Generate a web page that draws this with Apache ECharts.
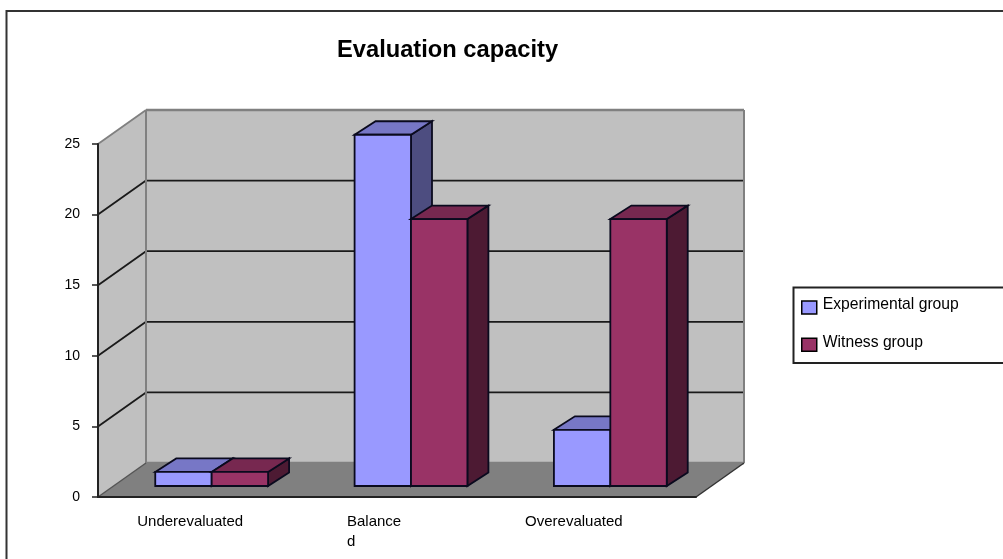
<!DOCTYPE html>
<html>
<head>
<meta charset="utf-8">
<style>html,body{margin:0;padding:0;background:#fff}#chart{width:1003px;height:559px}</style>
<script src="https://cdn.jsdelivr.net/npm/echarts@6/dist/echarts.min.js"></script>
</head>
<body>
<div id="chart"></div>
<script>
const categories = ['Underevaluated', 'Balanced', 'Overevaluated'];
const experimentalGroup = [1, 25, 4];
const witnessGroup = [1, 19, 19];
const valueTicks = [0, 5, 10, 15, 20, 25];

// Oblique projection: how far the back wall and the bars sit behind the axis plane.
const WALL_DEPTH = [48, -34];
const BAR_SHIFT = [14, -11];
const BAR_DEPTH = [21, -13.5];
const BAR_RATIO = 0.283;
const BAR_SCALE = 0.995;

const FONT = '"Liberation Sans", Arial, sans-serif';
const SHADES = {
  exp: { front: '#9999FF', top: '#7777C6', side: '#4D4D80' },
  wit: { front: '#993366', top: '#772850', side: '#4D1A33' }
};

function poly(points, fill, stroke, lineWidth) {
  return {
    type: 'polygon',
    shape: { points },
    style: { fill, stroke: stroke || null, lineWidth: lineWidth || 0, lineJoin: 'miter' }
  };
}
function seg(a, b, stroke, lineWidth) {
  return {
    type: 'line',
    shape: { x1: a[0], y1: a[1], x2: b[0], y2: b[1] },
    style: { stroke, lineWidth }
  };
}

// Left wall, back wall, floor and the gridlines that wrap around them.
function renderWalls(params, api) {
  const cs = params.coordSys;
  const [dx, dy] = WALL_DEPTH;
  const l = cs.x, r = cs.x + cs.width;
  const y0 = api.coord([0, 0])[1];
  const yT = api.coord([0, valueTicks[valueTicks.length - 1]])[1];
  const children = [
    poly([[l + dx, yT + dy], [r + dx, yT + dy], [r + dx, y0 + dy], [l + dx, y0 + dy]], '#C0C0C0'),
    poly([[l, yT], [l + dx, yT + dy], [l + dx, y0 + dy], [l, y0]], '#C0C0C0'),
    poly([[l, y0], [r, y0], [r + dx, y0 + dy], [l + dx, y0 + dy]], '#808080')
  ];
  valueTicks.forEach(function (t) {
    const y = api.coord([0, t])[1];
    const edge = t === 0 || t === valueTicks[valueTicks.length - 1];
    const col = edge ? '#808080' : '#1A1A1A';
    children.push(seg([l + dx, y + dy], [r + dx, y + dy], col, edge ? 2.5 : 1.8));
    if (t !== 0) children.push(seg([l, y], [l + dx, y + dy], edge ? '#808080' : '#1A1A1A', 1.8));
  });
  children.push(seg([l + dx, yT + dy], [l + dx, y0 + dy], '#808080', 2));
  children.push(seg([r + dx, yT + dy], [r + dx, y0 + dy], '#808080', 2));
  children.push(seg([l, y0], [l + dx, y0 + dy], '#555555', 1.5));
  children.push(seg([r, y0], [r + dx, y0 + dy], '#333333', 1.5));
  return { type: 'group', children };
}

// One 3D column: front face plus top and side faces.
function barRenderer(slot, shades) {
  return function (params, api) {
    const base = api.coord([api.value(0), 0]);
    const head = api.coord([api.value(0), api.value(1)]);
    const w = api.size([1, 0])[0] * BAR_RATIO;
    const x0 = base[0] + BAR_SHIFT[0] + (slot - 1) * w;
    const x1 = x0 + w;
    const yB = base[1] + BAR_SHIFT[1];
    const yT = yB - (base[1] - head[1]) * BAR_SCALE;
    const [dx, dy] = BAR_DEPTH;
    const ink = '#0A0A1E';
    return {
      type: 'group',
      children: [
        poly([[x1, yT], [x1 + dx, yT + dy], [x1 + dx, yB + dy], [x1, yB]], shades.side, ink, 1.8),
        poly([[x0, yT], [x0 + dx, yT + dy], [x1 + dx, yT + dy], [x1, yT]], shades.top, ink, 1.8),
        poly([[x0, yT], [x1, yT], [x1, yB], [x0, yB]], shades.front, ink, 1.8)
      ]
    };
  };
}

const chart = echarts.init(document.getElementById('chart'), null, { renderer: 'canvas' });
chart.setOption({
  animation: false,
  backgroundColor: '#FFFFFF',
  title: {
    text: 'Evaluation capacity',
    left: 332,
    top: 33,
    textStyle: { fontFamily: FONT, fontWeight: 'bold', fontSize: 23.7, color: '#000' }
  },
  graphic: [
    { type: 'rect', z: -10, shape: { x: 6.5, y: 11, width: 1100, height: 700 },
      style: { fill: 'none', stroke: '#333', lineWidth: 2 } },
    { type: 'rect', z: 5, shape: { x: 793.5, y: 287.5, width: 300, height: 75.5 },
      style: { fill: '#fff', stroke: '#222', lineWidth: 2 } }
  ],
  legend: {
    left: 801,
    top: 297,
    orient: 'vertical',
    padding: 0,
    itemWidth: 15,
    itemHeight: 13,
    itemGap: 19.5,
    z: 10,
    data: [
      { name: 'Experimental group', icon: 'rect', itemStyle: { color: SHADES.exp.front, borderColor: '#000', borderWidth: 1.5 } },
      { name: 'Witness group', icon: 'rect', itemStyle: { color: SHADES.wit.front, borderColor: '#000', borderWidth: 1.5 } }
    ],
    formatter: function (name) { return '{t|' + name + '}'; },
    textStyle: {
      fontFamily: FONT,
      fontSize: 15.7,
      color: '#000',
      rich: { t: { fontFamily: FONT, fontSize: 15.7, color: '#000', padding: [0, 0, 5, 1] } }
    }
  },
  grid: { left: 98, right: 307, top: 144, bottom: 62 },
  xAxis: {
    type: 'category',
    z: 3,
    data: categories,
    axisLine: { lineStyle: { color: '#222', width: 2 } },
    axisTick: { alignWithLabel: false, length: 7, lineStyle: { color: '#222', width: 1.5 } },
    axisLabel: {
      interval: 0,
      margin: 15,
      color: '#000',
      fontFamily: FONT,
      fontSize: 15,
      lineHeight: 20,
      formatter: function (value, index) {
        if (index === 0) return '{a|' + value + '}';
        if (index === 1) return '{b|' + value.slice(0, -1) + '}\n{b|' + value.slice(-1) + '}';
        return '{c|' + value + '}';
      },
      rich: {
        a: { fontFamily: FONT, fontSize: 15, padding: [0, 15, 0, 0] },
        b: { fontFamily: FONT, fontSize: 15, lineHeight: 20, width: 56, align: 'left', padding: [0, 44, 0, 0] },
        c: { fontFamily: FONT, fontSize: 15, padding: [0, 45, 0, 0] }
      }
    },
    splitLine: { show: false }
  },
  yAxis: {
    type: 'value',
    z: 3,
    min: 0,
    max: 25,
    interval: 5,
    axisLine: { show: true, lineStyle: { color: '#222', width: 2 } },
    axisTick: { show: true, length: 6, lineStyle: { color: '#222', width: 1.5 } },
    axisLabel: { margin: 18, color: '#000', fontFamily: FONT, fontSize: 14 },
    splitLine: { show: false }
  },
  series: [
    { type: 'custom', name: 'walls', silent: true, z: 1, data: [[0, 0]], renderItem: renderWalls, encode: { x: 0, y: 1 } },
    { type: 'custom', name: 'Experimental group', z: 4, itemStyle: { color: SHADES.exp.front },
      data: experimentalGroup.map(function (v, i) { return [i, v]; }),
      encode: { x: 0, y: 1 }, renderItem: barRenderer(0, SHADES.exp) },
    { type: 'custom', name: 'Witness group', z: 4, itemStyle: { color: SHADES.wit.front },
      data: witnessGroup.map(function (v, i) { return [i, v]; }),
      encode: { x: 0, y: 1 }, renderItem: barRenderer(1, SHADES.wit) }
  ]
});
</script>
</body>
</html>
